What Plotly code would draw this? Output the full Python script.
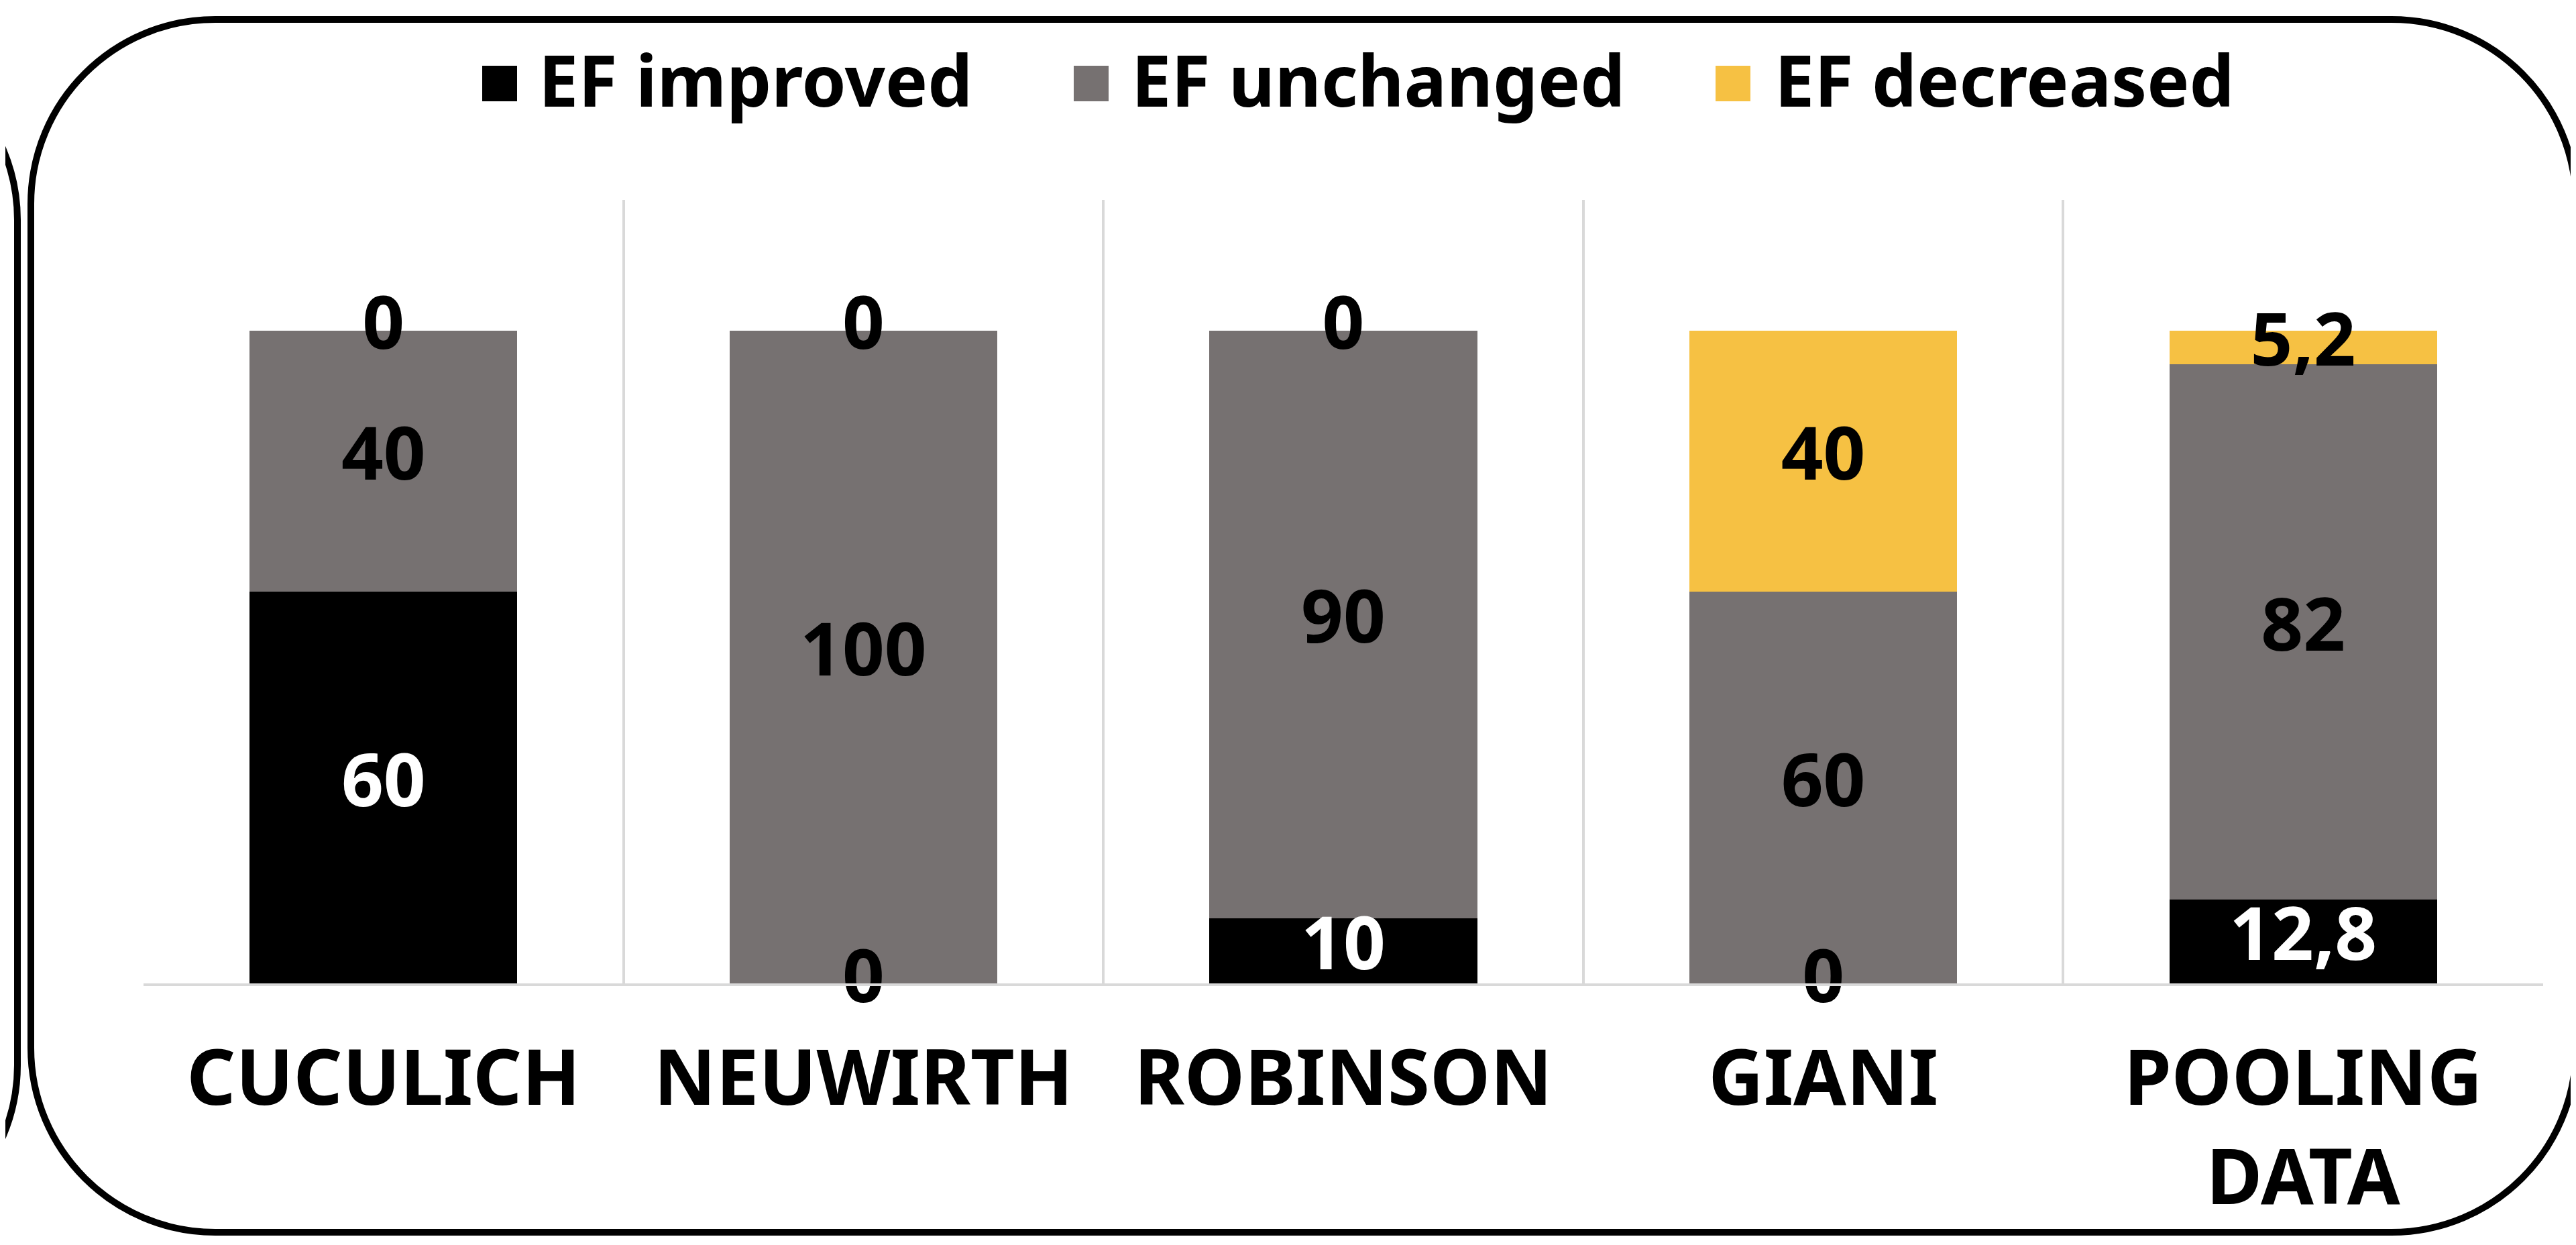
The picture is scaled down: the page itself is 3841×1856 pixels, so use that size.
import plotly.graph_objects as go

# ---- data ----
categories = ["CUCULICH", "NEUWIRTH", "ROBINSON", "GIANI", "POOLING DATA"]
tick_labels = ["CUCULICH", "NEUWIRTH", "ROBINSON", "GIANI", "POOLING<br>DATA"]
ef_improved = [60, 0, 10, 0, 12.8]
ef_unchanged = [40, 100, 90, 60, 82]
ef_decreased = [0, 0, 0, 40, 5.2]
series_names = ["EF improved", "EF unchanged", "EF decreased"]

# ---- style ----
W, H = 3841, 1856
PL, PR, PT, PB = 206, 3784, 290, 1458  # plot area in pixels
colors = ["#000000", "#767171", "#F6C143"]
FONT = "Noto Sans"


def fmt(v):
    s = ("%g" % v)
    return s.replace(".", ",")


def px(X):
    return (X - PL) / (PR - PL)


def py(Y):
    return (PB - Y) / (PB - PT)


fig = go.Figure()
series = [ef_improved, ef_unchanged, ef_decreased]
for name, vals, col in zip(series_names, series, colors):
    fig.add_trace(go.Bar(
        x=categories, y=vals, name=name, marker=dict(color=col, line=dict(width=0)),
        width=0.558, showlegend=False, hoverinfo="skip"))

# data labels (centre of each stacked segment)
base = [0.0] * len(categories)
for k, (vals, col) in enumerate(zip(series, colors)):
    ys = [b + v / 2 for b, v in zip(base, vals)]
    tcol = []
    for v in vals:
        if k == 0 and v != 0:
            tcol.append("#FFFFFF")
        else:
            tcol.append("#000000")
    fig.add_trace(go.Scatter(
        x=categories, y=ys, mode="text", text=[fmt(v) for v in vals],
        textposition="middle center",
        textfont=dict(family=FONT, size=110, color=tcol, weight="bold"),
        showlegend=False, hoverinfo="skip", cliponaxis=False))
    base = [b + v for b, v in zip(base, vals)]


def rounded_rect_path(x0, y0, x1, y1, r):
    k = 0.5523 * r

    def P(X, Y):
        return "%.6f,%.6f" % (px(X), py(Y))
    d = "M" + P(x0 + r, y0)
    d += " L" + P(x1 - r, y0)
    d += " C" + P(x1 - r + k, y0) + " " + P(x1, y0 + r - k) + " " + P(x1, y0 + r)
    d += " L" + P(x1, y1 - r)
    d += " C" + P(x1, y1 - r + k) + " " + P(x1 - r + k, y1) + " " + P(x1 - r, y1)
    d += " L" + P(x0 + r, y1)
    d += " C" + P(x0 + r - k, y1) + " " + P(x0, y1 - r + k) + " " + P(x0, y1 - r)
    d += " L" + P(x0, y0 + r)
    d += " C" + P(x0, y0 + r - k) + " " + P(x0 + r - k, y0) + " " + P(x0 + r, y0)
    d += " Z"
    return d


shapes = [
    dict(type="path", xref="paper", yref="paper",
         path=rounded_rect_path(38, 21, 3833, 1829, 275),
         line=dict(color="#000000", width=10), fillcolor="rgba(0,0,0,0)", layer="above"),
    dict(type="path", xref="paper", yref="paper",
         path=rounded_rect_path(-1200, 50, 18, 1850, 270),
         line=dict(color="#000000", width=10), fillcolor="rgba(0,0,0,0)", layer="above"),
]

# manual legend (large square swatches)
legend_sq = [(711, 763), (1593, 1645), (2550, 2602)]
legend_tx = [793, 1677, 2636]
annotations = []
for (sx0, sx1), tx, name, col in zip(legend_sq, legend_tx, series_names, colors):
    shapes.append(dict(type="rect", xref="paper", yref="paper",
                       x0=px(sx0), x1=px(sx1), y0=py(143), y1=py(90),
                       fillcolor=col, line=dict(width=0)))
    annotations.append(dict(xref="paper", yref="paper", x=px(tx), y=py(110),
                            xanchor="left", yanchor="middle", showarrow=False,
                            text=name, font=dict(family=FONT, size=106, color="#000000", weight="bold")))

fig.update_layout(
    width=W, height=H, barmode="stack",
    margin=dict(l=PL, r=W - PR, t=PT, b=H - PB, pad=0),
    paper_bgcolor="#FFFFFF", plot_bgcolor="#FFFFFF",
    shapes=shapes, annotations=annotations, showlegend=False,
    xaxis=dict(range=[-0.5, 4.5], tickmode="array", tickvals=categories, ticktext=tick_labels,
               tickson="boundaries", ticks="", showgrid=True, gridcolor="#D9D9D9", gridwidth=4,
               showline=True, linecolor="#D9D9D9", linewidth=4, zeroline=False,
               ticklabelstandoff=40,
               tickfont=dict(family=FONT, size=114, color="#000000", weight="bold")),
    yaxis=dict(range=[0, 120], showgrid=False, showticklabels=False, zeroline=False,
               showline=False, ticks=""),
)

fig.write_html("out.html")
